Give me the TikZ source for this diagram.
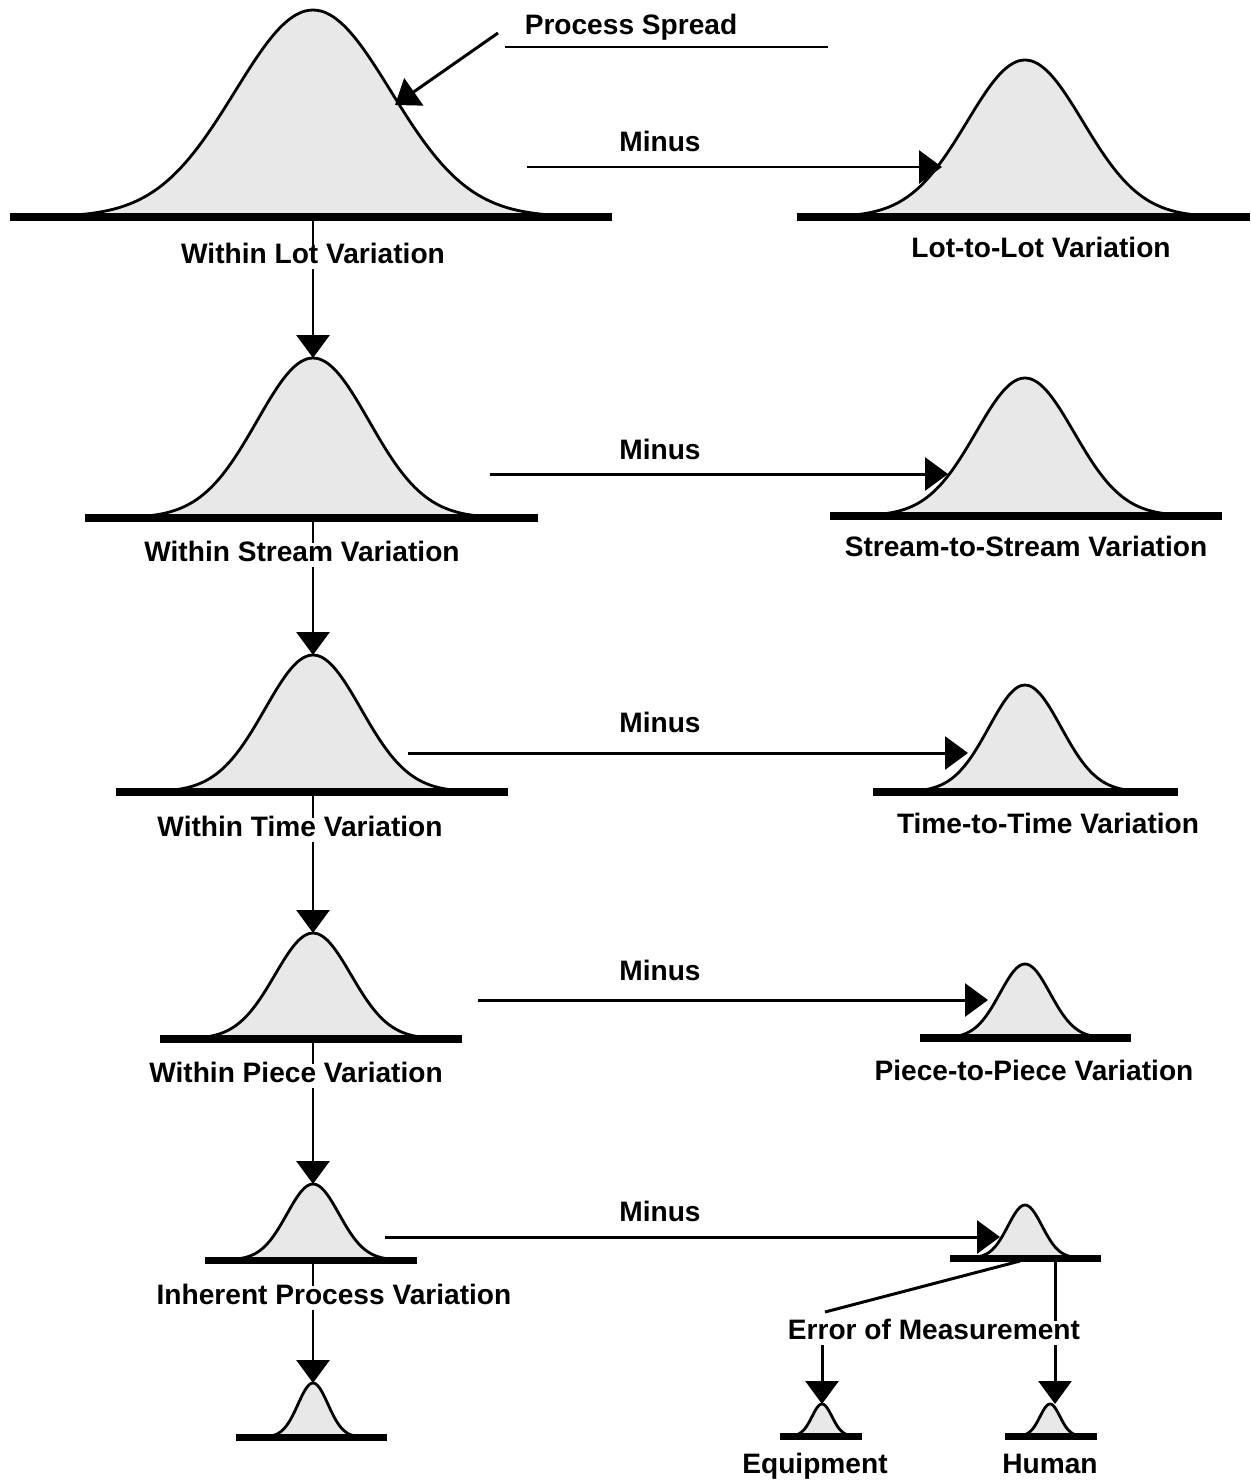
\documentclass[tikz,border=0pt]{standalone}
\usepackage{fontspec}
\setmainfont{Liberation Sans}
\usetikzlibrary{arrows.meta}

\begin{document}
\begin{tikzpicture}[x=0.02cm,y=-0.02cm,
    lbl/.style={font=\bfseries\fontsize{16}{19}\selectfont,inner sep=3pt,text height=0.75em,text depth=0pt},
    conn/.style={line width=1.7pt},
    arrowline/.style={conn,-{Triangle[length=4.6mm,width=6.6mm]}},
    bellfill/.style={line width=1.6pt,fill=gray!18,line join=round},
    baseaxis/.style={line width=4pt}]
    \useasboundingbox (0,0) rectangle (1251,1481);

    % bell curves: name/centre/base/height/sigma/axis from/axis to
    \foreach \nm/\cx/\by/\h/\s/\xl/\xr in {
        L1/313/217/207/78/10/612, R1/1025/217/157/58/797/1250,
        L2/313/518/160/56/85/538, R2/1025/516/138/49/830/1222,
        L3/313/792/137/48/116/508, R3/1025/792/107/36/873/1178,
        L4/313/1039/106/38/160/462, R4/1025/1038/74/25/920/1131,
        L5/313/1260/76/26/205/417, R5/1025/1258/53/17/950/1101,
        L6/313/1437/54/15/236/387,
        EQ/822/1436/32/10/780/862, HU/1050/1436/32/10/1005/1097}{
        \draw[bellfill] plot[domain=-3.2:3.2,samples=61,smooth]
            ({\cx+\s*\x},{\by-\h*exp(-(\x)*(\x)/2)}) -- cycle;
        \draw[baseaxis] (\xl,\by) -- (\xr,\by);
        \coordinate (peak-\nm) at (\cx,\by-\h);
        \coordinate (base-\nm) at (\cx,\by);
    }

    % labels
    \node[lbl] (ps) at (631,28) {Process Spread};
    \node[lbl] (wl) at (313,257) {Within Lot Variation};
    \node[lbl] (ll) at (1041,251) {Lot-to-Lot Variation};
    \node[lbl] (ws) at (302,555) {Within Stream Variation};
    \node[lbl] (ss) at (1026,550) {Stream-to-Stream Variation};
    \node[lbl] (wt) at (300,830) {Within Time Variation};
    \node[lbl] (tt) at (1048,827) {Time-to-Time Variation};
    \node[lbl] (wp) at (296,1076) {Within Piece Variation};
    \node[lbl] (pp) at (1034,1074) {Piece-to-Piece Variation};
    \node[lbl] (ip) at (334,1298) {Inherent Process Variation};
    \node[lbl] (em) at (934,1333) {Error of Measurement};
    \node[lbl] (eq) at (815,1467) {Equipment};
    \node[lbl] (hu) at (1050,1467) {Human};
    \node[lbl] (m1) at (660,145) {Minus};
    \node[lbl] (m2) at (660,453) {Minus};
    \node[lbl] (m3) at (660,726) {Minus};
    \node[lbl] (m4) at (660,974) {Minus};
    \node[lbl] (m5) at (660,1215) {Minus};

    % free ends
    \coordinate (ps-a) at (498,33);
    \coordinate (ps-b) at (395,105);
    \coordinate (ps-l) at (505,47);
    \coordinate (ps-r) at (828,47);
    \coordinate (h1a) at (527,167);  \coordinate (h1b) at (942,167);
    \coordinate (h2a) at (490,474);  \coordinate (h2b) at (948,474);
    \coordinate (h3a) at (408,753);  \coordinate (h3b) at (968,753);
    \coordinate (h4a) at (478,1000); \coordinate (h4b) at (988,1000);
    \coordinate (h5a) at (385,1237); \coordinate (h5b) at (1000,1237);
    \coordinate (r5-l) at (1020,1261);
    \coordinate (r5-r) at (1055,1261);
    \coordinate (em-l) at (825,1312);

    \draw[conn] (ps-l) -- (ps-r);
    \draw[arrowline] (ps-a) -- (ps-b);

    \draw[arrowline] (h1a) -- (h1b);
    \draw[arrowline] (h2a) -- (h2b);
    \draw[arrowline] (h3a) -- (h3b);
    \draw[arrowline] (h4a) -- (h4b);
    \draw[arrowline] (h5a) -- (h5b);

    \draw[conn] (base-L1) -- (wl.north -| base-L1);
    \draw[arrowline] (wl.south -| peak-L2) -- (peak-L2);
    \draw[conn] (base-L2) -- (ws.north -| base-L2);
    \draw[arrowline] (ws.south -| peak-L3) -- (peak-L3);
    \draw[conn] (base-L3) -- (wt.north -| base-L3);
    \draw[arrowline] (wt.south -| peak-L4) -- (peak-L4);
    \draw[conn] (base-L4) -- (wp.north -| base-L4);
    \draw[arrowline] (wp.south -| peak-L5) -- (peak-L5);
    \draw[conn] (base-L5) -- (ip.north -| base-L5);
    \draw[arrowline] (ip.south -| peak-L6) -- (peak-L6);

    \draw[conn] (r5-l) -- (em-l);
    \draw[conn] (r5-r) -- (r5-r |- em.north);
    \draw[arrowline] (em.south -| peak-EQ) -- (peak-EQ);
    \draw[arrowline] (em.south -| r5-r) -- (peak-HU -| r5-r);
\end{tikzpicture}
\end{document}
